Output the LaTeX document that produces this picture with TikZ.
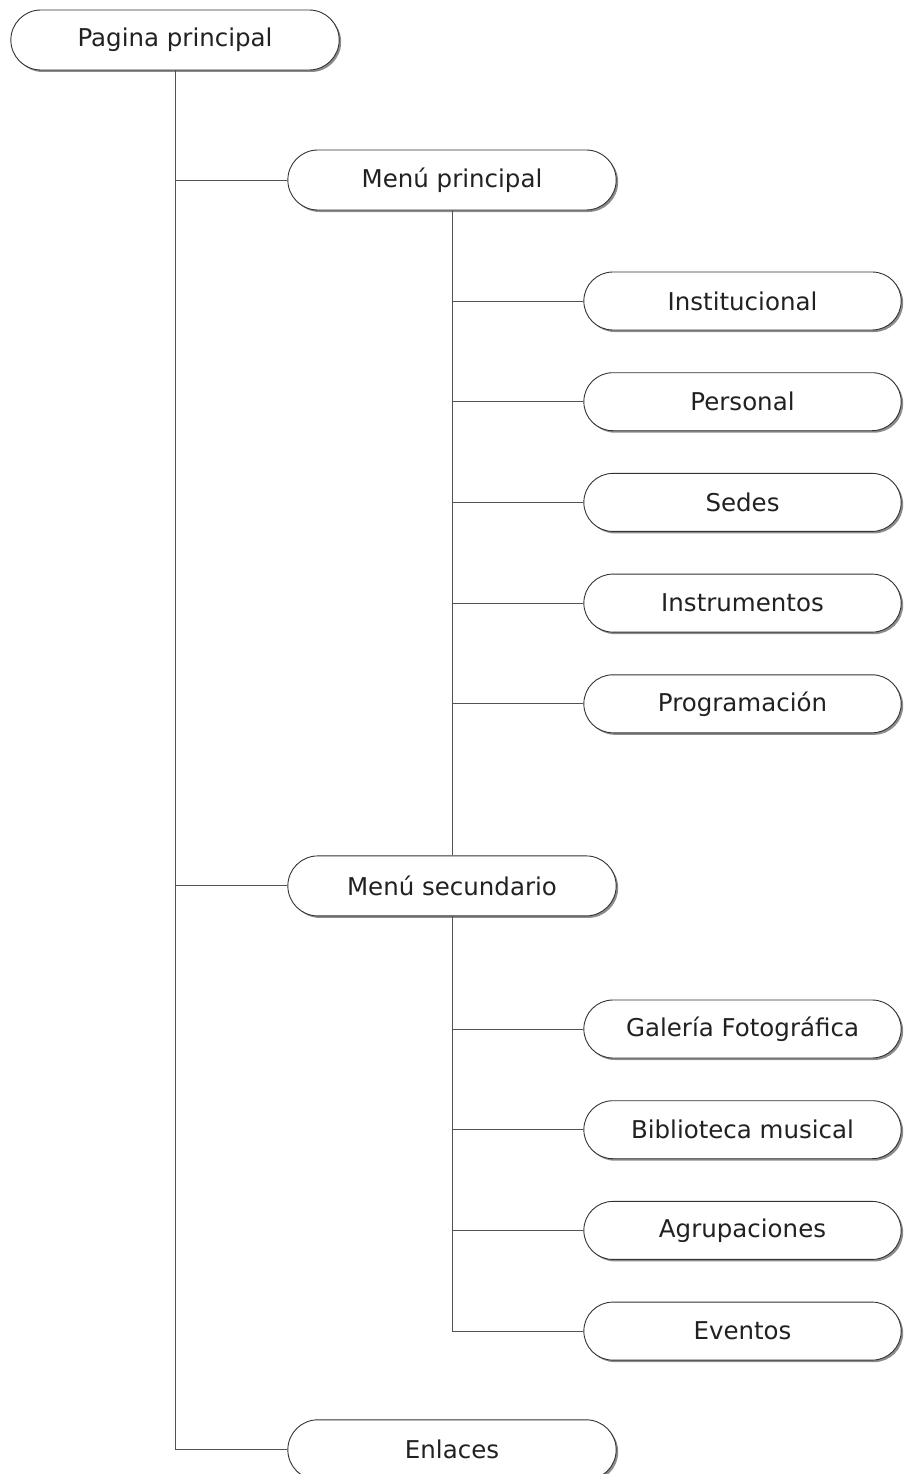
\documentclass[tikz,border=0pt]{standalone}
\usepackage{fontspec}
\setmainfont{DejaVu Sans}
\usetikzlibrary{shapes.misc}
\usetikzlibrary{shadows}
\usetikzlibrary{positioning}
\definecolor{linegray}{rgb}{0.32,0.32,0.32}
\definecolor{textgray}{rgb}{0.13,0.13,0.13}
\tikzset{
menu_item/.style={rounded rectangle, draw=black!80, line width=0.9pt, fill=white, text=textgray, minimum width=335pt, minimum height=60pt, font=\fontsize{24.5}{28}\selectfont, drop shadow={shadow xshift=2pt, shadow yshift=-2pt, fill=black!45, opacity=1}},
sub_item/.style={menu_item, minimum width=324pt, minimum height=58pt},
link/.style={draw=linegray, line width=0.9pt}
}

\begin{document}
\begin{tikzpicture}[x=1pt, y=-1pt]
    \useasboundingbox (0,0) rectangle (904,1474);
    \node[menu_item] (pagina) at (175,40) {Pagina principal};
    \node[menu_item] (menu_p) at (452,180) {Menú principal};

    \node[sub_item] (inst) at (742.5,301) {Institucional};
    \node[sub_item] (pers) [below=41.8pt of inst] {Personal};
    \node[sub_item] (sedes) [below=41.8pt of pers] {Sedes};
    \node[sub_item] (instr) [below=41.8pt of sedes] {Instrumentos};
    \node[sub_item] (prog) [below=41.8pt of instr] {Programación};

    \node[menu_item] (menu_s) [below=645pt of menu_p] {Menú secundario};
    \node[sub_item] (galeria) at (742.5,1029) {Galería Fotográfica};
    \node[sub_item] (biblio) [below=41.8pt of galeria] {Biblioteca musical};
    \node[sub_item] (agrup) [below=41.8pt of biblio] {Agrupaciones};
    \node[sub_item] (eventos) [below=41.8pt of agrup] {Eventos};

    \node[menu_item] (enlaces) [below=503pt of menu_s] {Enlaces};

    \foreach \n in {menu_p,menu_s,enlaces}
        \draw[link] (pagina.south) |- (\n.west);
    \draw[link] (menu_p.south) -- (menu_s.north);
    \foreach \n in {inst,pers,sedes,instr,prog}
        \draw[link] (menu_p.south) |- (\n.west);
    \foreach \n in {galeria,biblio,agrup,eventos}
        \draw[link] (menu_s.south) |- (\n.west);
\end{tikzpicture}
\end{document}
